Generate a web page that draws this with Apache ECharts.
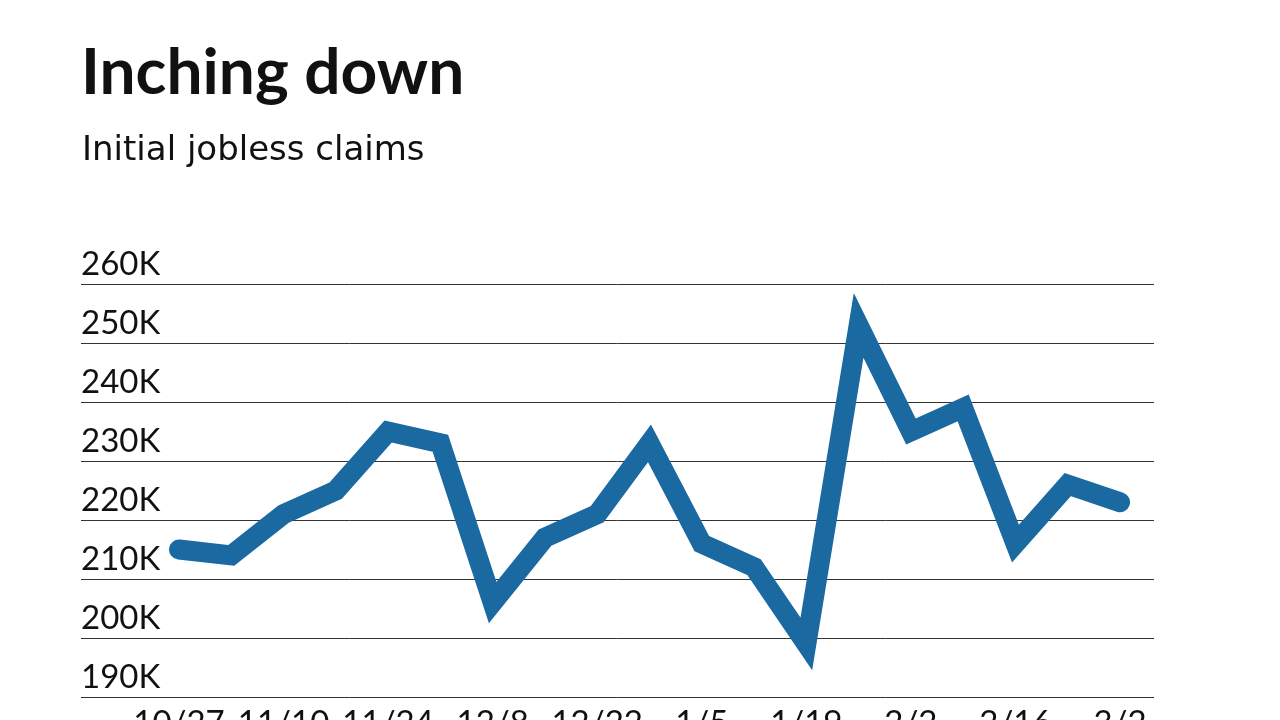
<!DOCTYPE html>
<html>
<head>
<meta charset="utf-8">
<script src="https://cdn.jsdelivr.net/npm/echarts@6/dist/echarts.min.js"></script>
<style>
html,body{margin:0;padding:0;background:#fff;}
#chart{width:1280px;height:720px;}
</style>
</head>
<body>
<div id="chart"></div>
<script>
const titleText = "Inching down";
const subtitleText = "Initial jobless claims";
const weeks = ["10/27","11/3","11/10","11/17","11/24","12/1","12/8","12/15","12/22","12/29","1/5","1/12","1/19","1/26","2/2","2/9","2/16","2/23","3/2"];
const claims = [215000,214000,221000,225000,235000,233000,206000,217000,221000,233000,216000,212000,199000,253000,235000,239000,216000,226000,223000];
const yMin = 190000, yMax = 260000, yStep = 10000;

const chart = echarts.init(document.getElementById('chart'));
const font = 'Lato';
chart.setOption({
  backgroundColor: '#fff',
  animation: false,
  title: [
    {text: titleText, left: 76, top: 36, textStyle: {fontFamily: font, fontWeight: 'bold', fontSize: 64, color: '#111'}},
    {text: subtitleText, left: 77, top: 129, textStyle: {fontFamily: 'DejaVu Sans', fontWeight: 'normal', fontSize: 34, color: '#111'}}
  ],
  grid: [
    {left: 81, right: 126, top: 284, bottom: 23, outerBoundsMode: 'none', containLabel: false},
    {left: 179, right: 160, top: 284, bottom: 23, outerBoundsMode: 'none', containLabel: false}
  ],
  xAxis: [
    {gridIndex: 0, type: 'category', data: weeks, show: false},
    {gridIndex: 1, type: 'category', data: weeks, boundaryGap: false,
     axisLine: {show: false}, axisTick: {show: false},
     axisLabel: {interval: 1, fontFamily: font, fontSize: 33, color: '#111', margin: 10}}
  ],
  yAxis: [
    {gridIndex: 0, type: 'value', min: yMin, max: yMax, interval: yStep,
     axisLine: {show: false}, axisTick: {show: false},
     splitLine: {show: true, lineStyle: {color: '#333', width: 1}},
     axisLabel: {inside: true, margin: 0, align: 'left', verticalAlign: 'bottom', padding: [0,0,3,0],
       fontFamily: font, fontSize: 33, color: '#111',
       formatter: v => (v/1000) + 'K'}},
    {gridIndex: 1, type: 'value', min: yMin, max: yMax, interval: yStep, show: false, splitLine: {show: false}}
  ],
  series: [{
    type: 'line', xAxisIndex: 1, yAxisIndex: 1, data: claims,
    symbol: 'none', silent: true,
    lineStyle: {color: '#1b69a1', width: 20, cap: 'round', join: 'miter', miterLimit: 20}
  }]
});
</script>
</body>
</html>
